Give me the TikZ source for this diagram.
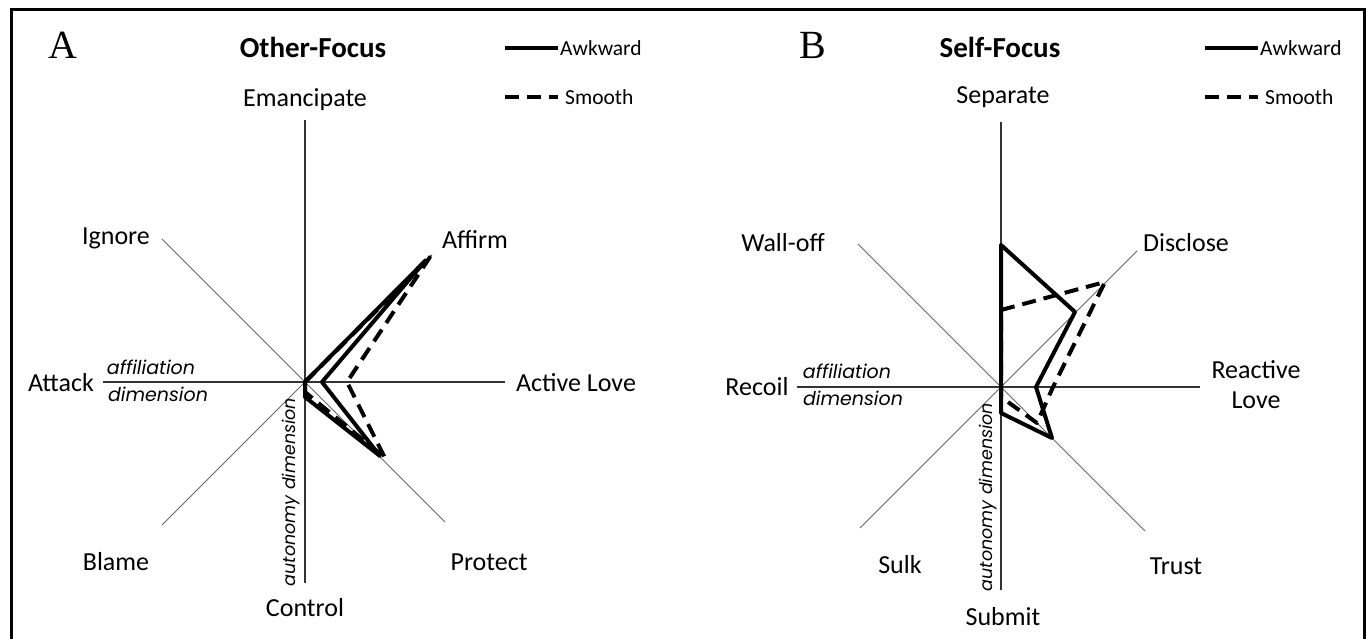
\documentclass[tikz,border=0pt]{standalone}
\usepackage{fontspec}
\setmainfont{Carlito}
\newfontfamily\geofont{Poppins}
\newfontfamily\letterfont{Liberation Serif}
\begin{document}
\begin{tikzpicture}[x=1pt,y=-1pt,
  axisln/.style={draw=black!80, line width=1.6pt},
  diagln/.style={draw=black!60, line width=1pt},
  awk/.style={draw=black, line width=4pt, line join=round},
  smo/.style={draw=black, line width=4pt, line join=round, dash pattern=on 14pt off 8pt},
  lab/.style={font=\fontsize{26}{30}\selectfont, inner sep=0pt},
  ital/.style={font=\geofont\itshape\fontsize{19}{22}\selectfont, inner sep=0pt},
  vital/.style={font=\geofont\itshape\fontsize{17.5}{20}\selectfont, inner sep=0pt, rotate=90},
  ttl/.style={font=\bfseries\fontsize{29}{32}\selectfont, inner sep=0pt},
  letter/.style={font=\letterfont\fontsize{40}{44}\selectfont, inner sep=0pt},
  leg/.style={font=\fontsize{21.5}{24}\selectfont, inner sep=0pt, anchor=west}]
\useasboundingbox (0,0) rectangle (1369,639);
% frame (open at the bottom)
\draw[line width=3pt] (11,639) -- (11,10) -- (1364,10) -- (1364,639);

% ---------------- Panel A ----------------
\coordinate (OA) at (305,382);
\coordinate (Atop) at (305,120);
\coordinate (Abot) at (305,583);
\coordinate (Aleft) at (103,382);
\coordinate (Aright) at (505,382);
\coordinate (Aig) at (162,239);
\coordinate (Apr) at (445,522);
\coordinate (Aaf) at (432,255);
\coordinate (Abl) at (162,525);
\draw[axisln] (Atop) -- (Abot);
\draw[axisln] (Aleft) -- (Aright);
\draw[diagln] (Aig) -- (Apr);
\draw[diagln] (Abl) -- (Aaf);

\node[letter] (lA) at (63,45) {A};
\node[ttl] (tA) at (313,47) {Other-Focus};
\node[lab] (emA) at (305,100) {Emancipate};
\node[lab] (igA) at (116,238) {Ignore};
\node[lab] (afA) at (475,240) {Affirm};
\node[lab] (atA) at (61,383) {Attack};
\node[lab] (alA) at (576,383) {Active Love};
\node[lab] (blA) at (116,562) {Blame};
\node[lab] (prA) at (489,562) {Protect};
\node[lab] (coA) at (305,608) {Control};
\node[ital] (afdA) at (151,367) {affiliation};
\node[ital] (dmdA) at (158,394) {dimension};
\node[vital] (audA) at (291,492) {autonomy dimension};

% data A
\coordinate (a1) at (426,260);
\coordinate (a2) at (322,382);
\coordinate (a3) at (380,456);
\coordinate (a4) at (305,397);
\draw[awk] (OA) -- (a1) -- (a2) -- (a3) -- (a4) -- cycle;
\coordinate (s1) at (430,257);
\coordinate (s2) at (347,382);
\coordinate (s3) at (385,458);
\coordinate (s4) at (305,392);
\draw[smo] (OA) -- (s1) -- (s2) -- (s3) -- (s4) -- cycle;

% legend A
\coordinate (lgA1) at (505,48);
\coordinate (lgA2) at (558,48);
\coordinate (lgA3) at (505,97);
\coordinate (lgA4) at (558,97);
\draw[line width=4pt] (lgA1) -- (lgA2);
\draw[line width=4pt, dash pattern=on 14pt off 8pt] (lgA3) -- (lgA4);
\node[leg] (lawA) at (560,48) {Awkward};
\node[leg] (lsmA) at (565,97) {Smooth};

% ---------------- Panel B ----------------
\coordinate (OB) at (1001,387);
\coordinate (Btop) at (1001,122);
\coordinate (Bbot) at (1001,590);
\coordinate (Bleft) at (797,387);
\coordinate (Bright) at (1200,387);
\coordinate (Bwo) at (858,244);
\coordinate (Btr) at (1145,531);
\coordinate (Bdi) at (1137,251);
\coordinate (Bsu) at (860,528);
\draw[axisln] (Btop) -- (Bbot);
\draw[axisln] (Bleft) -- (Bright);
\draw[diagln] (Bwo) -- (Btr);
\draw[diagln] (Bsu) -- (Bdi);

\node[letter] (lB) at (813,45) {B};
\node[ttl] (tB) at (1000,47) {Self-Focus};
\node[lab] (seB) at (1003,97) {Separate};
\node[lab] (woB) at (783,243) {Wall-off};
\node[lab] (diB) at (1186,243) {Disclose};
\node[lab, align=center] (rlB) at (1256,385) {Reactive\\Love};
\node[lab] (reB) at (757,387) {Recoil};
\node[lab] (suB) at (900,565) {Sulk};
\node[lab] (trB) at (1176,566) {Trust};
\node[lab] (smB) at (1003,617) {Submit};
\node[ital] (afdB) at (847,371) {affiliation};
\node[ital] (dmdB) at (853,398) {dimension};
\node[vital] (audB) at (988,497) {autonomy dimension};

% data B
\coordinate (b0) at (1001,245);
\coordinate (b1) at (1075,312);
\coordinate (b2) at (1036,387);
\coordinate (b3) at (1052,438);
\coordinate (b4) at (1001,413);
\draw[awk] (b0) -- (b1) -- (b2) -- (b3) -- (b4) -- (OB) -- cycle;
\coordinate (c0) at (1001,310);
\coordinate (c1) at (1105,282);
\coordinate (c2) at (1053,387);
\coordinate (c3) at (1037,423);
\coordinate (c4) at (1001,397);
\draw[smo] (c0) -- (c1) -- (c2) -- (c3) -- (c4) -- (OB) -- cycle;

% legend B
\coordinate (lgB1) at (1205,48);
\coordinate (lgB2) at (1258,48);
\coordinate (lgB3) at (1205,97);
\coordinate (lgB4) at (1258,97);
\draw[line width=4pt] (lgB1) -- (lgB2);
\draw[line width=4pt, dash pattern=on 14pt off 8pt] (lgB3) -- (lgB4);
\node[leg] (lawB) at (1260,48) {Awkward};
\node[leg] (lsmB) at (1265,97) {Smooth};
\end{tikzpicture}
\end{document}
